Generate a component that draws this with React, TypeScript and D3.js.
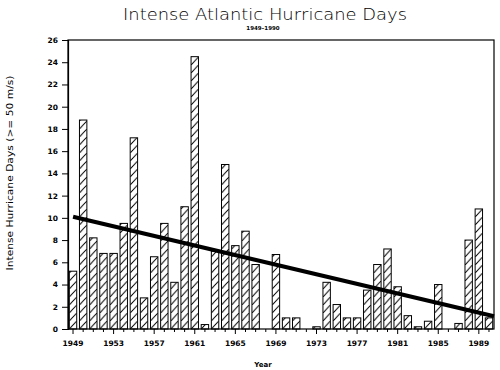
import * as d3 from "d3";
import React, { useEffect, useRef } from "react";

// intense hurricane days per year
const YEARS = [
  1949, 1950, 1951, 1952, 1953, 1954, 1955, 1956, 1957, 1958, 1959, 1960, 1961, 1962,
  1963, 1964, 1965, 1966, 1967, 1968, 1969, 1970, 1971, 1972, 1973, 1974, 1975, 1976,
  1977, 1978, 1979, 1980, 1981, 1982, 1983, 1984, 1985, 1986, 1987, 1988, 1989, 1990,
];
const DAYS = [
  5.2, 18.8, 8.2, 6.8, 6.8, 9.5, 17.2, 2.8, 6.5, 9.5, 4.2, 11.0, 24.5, 0.4,
  7.0, 14.8, 7.5, 8.8, 5.8, 0, 6.7, 1.0, 1.0, 0, 0.2, 4.2, 2.2, 1.0,
  1.0, 3.5, 5.8, 7.2, 3.8, 1.2, 0.2, 0.7, 4.0, 0, 0.5, 8.0, 10.8, 1.0,
];
const X_LABELS = [1949, 1953, 1957, 1961, 1965, 1969, 1973, 1977, 1981, 1985, 1989];
const Y_TICKS = [0, 2, 4, 6, 8, 10, 12, 14, 16, 18, 20, 22, 24, 26];
// linear trend, start and end
const TREND = [
  { year: 1949, value: 10.1 },
  { year: 1990.5, value: 1.15 },
];

const W = 500;
const H = 370;
const margin = { top: 40, right: 6, bottom: 41, left: 68 };
const FONT = "'DejaVu Sans', sans-serif";

function drawChart(node: SVGSVGElement) {
  const svg = d3.select(node);
  svg.selectAll("*").remove();

  const x = d3
    .scaleBand<number>()
    .domain(YEARS)
    .range([margin.left, W - margin.right])
    .paddingInner(0.27)
    .paddingOuter(0.13);
  const xLin = d3
    .scaleLinear()
    .domain([1948.5, 1990.5])
    .range([margin.left, W - margin.right]);
  const y = d3
    .scaleLinear()
    .domain([0, 26])
    .range([H - margin.bottom, margin.top]);

  const bw = x.bandwidth();
  const step = x.step();

  // hatch pattern, one tile per band so every bar gets the same "/" lines
  const defs = svg.append("defs");
  const pat = defs
    .append("pattern")
    .attr("id", "hatch")
    .attr("patternUnits", "userSpaceOnUse")
    .attr("x", x(YEARS[0])!)
    .attr("y", y(0))
    .attr("width", step)
    .attr("height", 8);
  pat.append("rect").attr("width", step).attr("height", 8).attr("fill", "#fff");
  pat
    .append("path")
    .attr("d", `M0,8L${bw},0`)
    .attr("stroke", "#000")
    .attr("stroke-width", 1)
    .attr("fill", "none");

  // title
  svg
    .append("text")
    .attr("x", 265)
    .attr("y", 20)
    .attr("text-anchor", "middle")
    .attr("font-family", FONT)
    .attr("font-size", 15)
    .attr("font-weight", 200)
    .attr("textLength", 284)
    .attr("lengthAdjust", "spacingAndGlyphs")
    .text("Intense Atlantic Hurricane Days");
  svg
    .append("text")
    .attr("x", 263)
    .attr("y", 30)
    .attr("text-anchor", "middle")
    .attr("font-family", FONT)
    .attr("font-size", 5.5)
    .attr("font-weight", "bold")
    .text("1949–1990");

  // bars
  svg
    .append("g")
    .selectAll("rect")
    .data(DAYS)
    .join("rect")
    .attr("x", (d, i) => x(YEARS[i])!)
    .attr("y", d => y(d))
    .attr("width", bw)
    .attr("height", d => y(0) - y(d))
    .attr("fill", "url(#hatch)")
    .attr("stroke", d => (d > 0 ? "#000" : "none"))
    .attr("stroke-width", 1);

  // trend line
  svg
    .append("path")
    .datum(TREND)
    .attr(
      "d",
      d3
        .line<{ year: number; value: number }>()
        .x(d => xLin(d.year))
        .y(d => y(d.value))
    )
    .attr("stroke", "#000")
    .attr("stroke-width", 4)
    .attr("fill", "none");

  // frame
  svg
    .append("rect")
    .attr("x", margin.left)
    .attr("y", margin.top)
    .attr("width", W - margin.right - margin.left)
    .attr("height", y(0) - margin.top)
    .attr("fill", "none")
    .attr("stroke", "#000")
    .attr("stroke-width", 1.2);

  // y axis
  const yAxis = svg
    .append("g")
    .attr("transform", `translate(${margin.left},0)`)
    .call(d3.axisLeft(y).tickValues(Y_TICKS).tickSize(6).tickPadding(4));
  yAxis.select(".domain").attr("stroke-width", 1.2);
  yAxis
    .selectAll("text")
    .attr("font-family", FONT)
    .attr("font-size", 7.5)
    .attr("font-weight", "bold");

  // x axis: short tick every year, longer ones under labelled years
  const xAxis = svg
    .append("g")
    .attr("transform", `translate(0,${y(0)})`)
    .call(
      d3
        .axisBottom(x)
        .tickSize(3)
        .tickSizeOuter(0)
        .tickFormat(d => (X_LABELS.includes(d as number) ? String(d) : ""))
    );
  xAxis.select(".domain").remove();
  xAxis
    .selectAll(".tick")
    .filter(d => X_LABELS.includes(d as number))
    .select("line")
    .attr("y2", 5);
  xAxis
    .selectAll("text")
    .attr("y", 12)
    .attr("font-family", FONT)
    .attr("font-size", 7.5)
    .attr("font-weight", "bold");

  // axis titles
  svg
    .append("text")
    .attr("x", 263)
    .attr("y", 367)
    .attr("text-anchor", "middle")
    .attr("font-family", FONT)
    .attr("font-size", 7)
    .attr("font-weight", "bold")
    .text("Year");
  svg
    .append("text")
    .attr("transform", "translate(13,173) rotate(-90)")
    .attr("text-anchor", "middle")
    .attr("font-family", FONT)
    .attr("font-size", 8)
    .attr("textLength", 195)
    .attr("lengthAdjust", "spacingAndGlyphs")
    .text("Intense Hurricane Days (>= 50 m/s)");
}

export default function App() {
  const ref = useRef<SVGSVGElement>(null);

  useEffect(() => {
    if (ref.current) drawChart(ref.current);
  }, []);

  return (
    <svg
      ref={ref}
      width={W}
      height={H}
      style={{ position: "absolute", left: 0, top: 0, background: "#fff" }}
    />
  );
}
